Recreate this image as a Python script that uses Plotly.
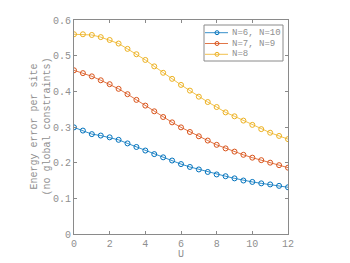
import plotly.graph_objects as go

U = [0, 0.5, 1, 1.5, 2, 2.5, 3, 3.5, 4, 4.5, 5, 5.5, 6, 6.5, 7, 7.5, 8, 8.5, 9, 9.5, 10, 10.5, 11, 11.5, 12]
n6_10 = [0.299, 0.290, 0.280, 0.276, 0.271, 0.264, 0.254, 0.244, 0.234, 0.224, 0.215, 0.206, 0.196,
         0.188, 0.181, 0.174, 0.167, 0.162, 0.156, 0.150, 0.146, 0.142, 0.139, 0.135, 0.131]
n7_9 = [0.459, 0.451, 0.442, 0.431, 0.420, 0.407, 0.392, 0.376, 0.360, 0.344, 0.328, 0.313, 0.299,
        0.286, 0.274, 0.262, 0.250, 0.240, 0.231, 0.222, 0.214, 0.207, 0.200, 0.193, 0.186]
n8 = [0.560, 0.560, 0.558, 0.552, 0.544, 0.534, 0.519, 0.504, 0.488, 0.470, 0.452, 0.435, 0.418,
      0.402, 0.385, 0.370, 0.356, 0.341, 0.330, 0.318, 0.306, 0.294, 0.284, 0.275, 0.266]
x_ticks = [0, 2, 4, 6, 8, 10, 12]
y_ticks = [0, 0.1, 0.2, 0.3, 0.4, 0.5, 0.6]
y_ticktext = ["0", "0.1", "0.2", "0.3", "0.4", "0.5", "0.6"]
x_title = "U"
y_title = "Energy error per site<br>(no global constraints)"

series = [("N=6, N=10", n6_10, "#0072BD"), ("N=7, N=9", n7_9, "#D95319"), ("N=8", n8, "#EDB120")]

FONT = "Liberation Mono, DejaVu Sans Mono, monospace"
GRAY = "#8a8a8a"
TXT = "#8f8f8f"

fig = go.Figure()
for name, vals, col in series:
    fig.add_trace(go.Scatter(
        x=U, y=vals, name=name, mode="lines+markers", showlegend=False,
        line=dict(color=col, width=0.8),
        marker=dict(symbol="circle-open", size=5, color=col, line=dict(width=1, color=col)),
    ))

axis_common = dict(
    showline=True, linecolor=GRAY, linewidth=1, mirror="ticks",
    ticks="inside", ticklen=3, tickcolor=GRAY, showgrid=False, zeroline=False,
    automargin=False,
    tickfont=dict(family=FONT, size=10, color=TXT),
)

# manual compact legend (paper coordinates; plot area 214 x 214 px)
PW, PH = 214.0, 214.0
def px(x):  # pixel offset from plot left -> paper
    return x / PW
def py(y):  # pixel offset from plot top -> paper
    return 1 - y / PH

shapes = []
annotations = []
lx0, lx1, ly0, ly1 = 130, 209, 5, 41
shapes.append(dict(type="rect", xref="paper", yref="paper",
                   x0=px(lx0), x1=px(lx1), y0=py(ly1), y1=py(ly0),
                   line=dict(color=GRAY, width=1), fillcolor="white", layer="above"))
for i, (name, vals, col) in enumerate(series):
    yc = 12.7 + i * 10.8
    shapes.append(dict(type="line", xref="paper", yref="paper",
                       x0=px(lx0 + 1), x1=px(lx0 + 24), y0=py(yc), y1=py(yc),
                       line=dict(color=col, width=0.8), layer="above"))
    cx = lx0 + 13
    shapes.append(dict(type="circle", xref="paper", yref="paper",
                       x0=px(cx - 2), x1=px(cx + 2), y0=py(yc + 2), y1=py(yc - 2),
                       line=dict(color=col, width=1), layer="above"))
    annotations.append(dict(text=name, xref="paper", yref="paper",
                            x=px(lx0 + 26), y=py(yc), xanchor="left", yanchor="middle",
                            showarrow=False, font=dict(family=FONT, size=9, color=TXT)))

annotations.append(dict(text=y_title, xref="paper", yref="paper", textangle=-90,
                        x=px(-33.5), y=0.5, xanchor="center", yanchor="middle",
                        showarrow=False, font=dict(family=FONT, size=10, color=TXT)))
annotations.append(dict(text=x_title, xref="paper", yref="paper",
                        x=0.5, y=py(PH + 20), xanchor="center", yanchor="middle",
                        showarrow=False, font=dict(family=FONT, size=10, color=TXT)))

# page body has an 8px margin, so shrink the figure accordingly
fig.update_layout(
    width=342, height=255,
    margin=dict(l=66, r=62, t=12, b=29),
    paper_bgcolor="white", plot_bgcolor="white",
    font=dict(family=FONT, size=10, color=TXT),
    xaxis=dict(range=[0, 12], tickvals=x_ticks, **axis_common),
    yaxis=dict(range=[0, 0.6], tickvals=y_ticks, ticktext=y_ticktext, **axis_common),
    shapes=shapes,
    annotations=annotations,
    showlegend=False,
)

fig.write_html("out.html")
